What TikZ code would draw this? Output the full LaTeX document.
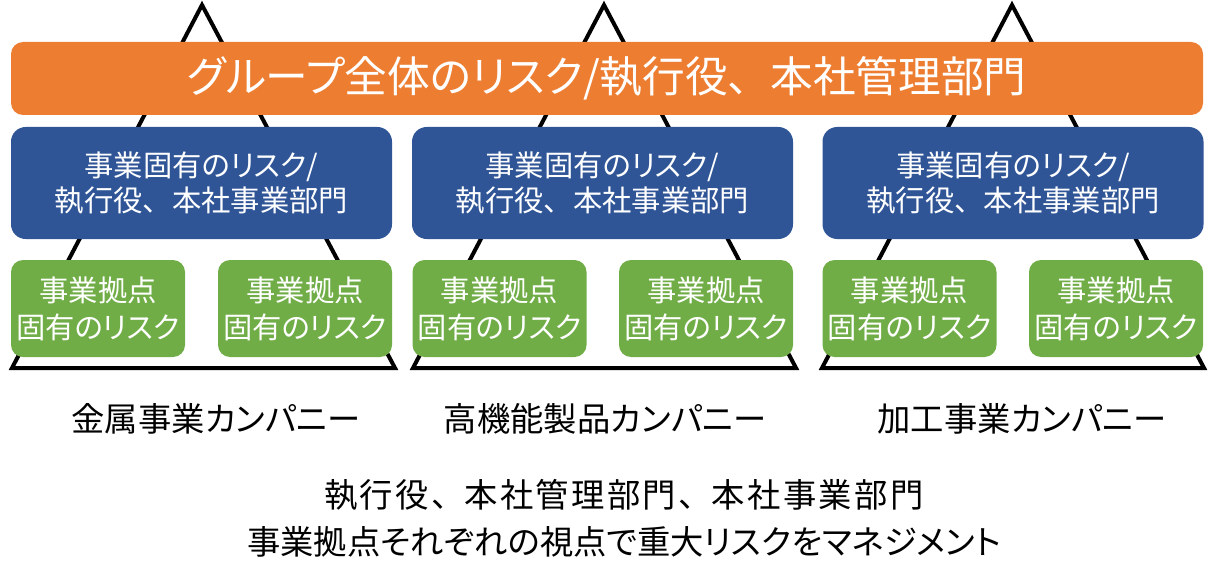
\documentclass[tikz,border=0pt]{standalone}
\usepackage{fontspec}
\setmainfont{Noto Sans CJK JP}[RawFeature=+palt]
\definecolor{grporange}{HTML}{ED7D31}
\definecolor{bizblue}{HTML}{2F5597}
\definecolor{sitegreen}{HTML}{70AD47}
\newcommand{\Toten}{、\kern.5em}
\newcommand{\BizRisk}{事業固有のリスク/\\執行役\Toten 本社事業部門}
\newcommand{\SiteRisk}{事業拠点\\固有のリスク}

\begin{document}
\begin{tikzpicture}[x=0.75pt,y=-0.75pt,
  pyramid/.style={draw=black, line width=3pt},
  grpbox/.style={fill=grporange, rounded corners=9pt, minimum width=894pt,
    minimum height=54.75pt, text=white, font=\fontsize{32}{36}\selectfont},
  bizbox/.style={fill=bizblue, rounded corners=11pt, minimum width=285.75pt,
    minimum height=84pt, text=white, align=center,
    font=\fontsize{22}{26}\selectfont},
  sitebox/.style={fill=sitegreen, rounded corners=9pt, minimum width=130.5pt,
    minimum height=72.75pt, inner xsep=0pt, text=white, align=center,
    font=\fontsize{22}{27.75}\selectfont},
  company/.style={font=\fontsize{25}{30}\selectfont}]
\useasboundingbox (0,0) rectangle (1216,588);

% pyramids behind the boxes
\draw[pyramid] (202,5) -- (12,368) -- (395,368) -- cycle;
\draw[pyramid] (604,5) -- (413,368) -- (796,368) -- cycle;
\draw[pyramid] (1012,5) -- (822,368) -- (1204,368) -- cycle;

\node[grpbox] (group) at (607,78.5) {グループ全体のリスク/執行役\Toten 本社管理部門};

\node[bizbox] (metal-biz) at (201.5,183) {\BizRisk};
\node[bizbox] (func-biz) at (602.5,183) {\BizRisk};
\node[bizbox] (proc-biz) at (1013,183) {\BizRisk};

\node[sitebox] (metal-site-1) at (98,308.5) {\SiteRisk};
\node[sitebox] (metal-site-2) at (305,308.5) {\SiteRisk};
\node[sitebox] (func-site-1) at (499.5,308.5) {\SiteRisk};
\node[sitebox] (func-site-2) at (706,308.5) {\SiteRisk};
\node[sitebox] (proc-site-1) at (909.5,308.5) {\SiteRisk};
\node[sitebox] (proc-site-2) at (1116,308.5) {\SiteRisk};

\node[company] (metal) at (216,419) {金属事業カンパニー};
\node[company] (func) at (605,419) {高機能製品カンパニー};
\node[company] (proc) at (1022,419) {加工事業カンパニー};

\node[company, align=center, font=\fontsize{25}{35}\selectfont] (summary) at (624,518.5)
  {{\addfontfeature{LetterSpace=7}執行役\Toten 本社管理部門\Toten 本社事業部門}\\
   事業拠点それぞれの視点で重大リスクをマネジメント};
\end{tikzpicture}
\end{document}
